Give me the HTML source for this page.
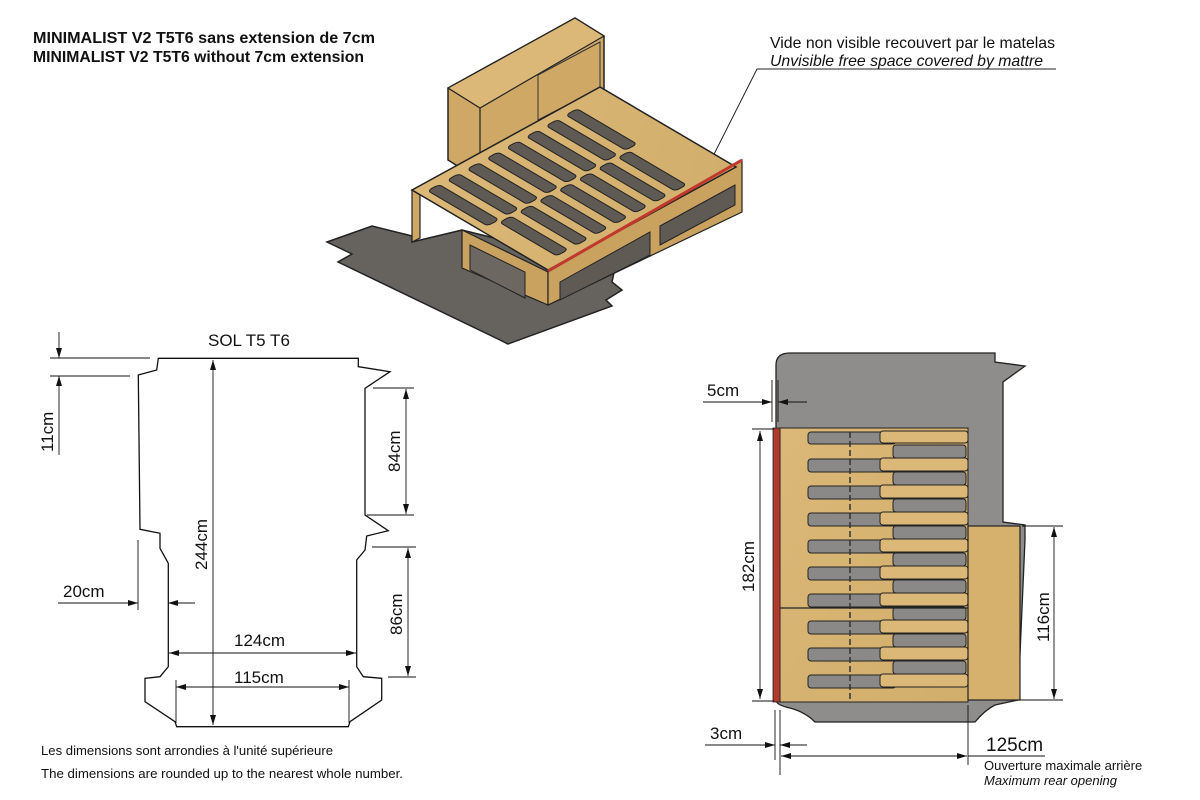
<!DOCTYPE html>
<html><head><meta charset="utf-8"><style>
html,body{margin:0;padding:0;background:#fff}
svg{display:block}
text{font-family:"Liberation Sans",sans-serif;fill:#111}
</style></head><body>
<svg width="1200" height="800" viewBox="0 0 1200 800" xmlns="http://www.w3.org/2000/svg">
<defs>
<marker id="a" markerWidth="10" markerHeight="6" refX="10" refY="3" orient="auto-start-reverse" markerUnits="userSpaceOnUse"><path d="M0,0 L10,3 L0,6 z" fill="#111"/></marker>
<linearGradient id="w" x1="0" y1="0" x2="1" y2="1"><stop offset="0" stop-color="#dcb878"/><stop offset="1" stop-color="#d2ae6c"/></linearGradient>
</defs>

<text x="33" y="43" font-size="16" font-weight="bold" textLength="342" lengthAdjust="spacingAndGlyphs">MINIMALIST V2 T5T6  sans extension de  7cm</text>
<text x="33" y="62" font-size="16" font-weight="bold" textLength="331" lengthAdjust="spacingAndGlyphs">MINIMALIST V2 T5T6 without 7cm extension</text>

<text x="770" y="48" font-size="16" textLength="285" lengthAdjust="spacingAndGlyphs">Vide non visible recouvert par le matelas</text>
<text x="770" y="66" font-size="16" font-style="italic" textLength="273" lengthAdjust="spacingAndGlyphs">Unvisible free space covered by mattre</text>
<polyline points="1056,69 757,69 700,182" fill="none" stroke="#222" stroke-width="1"/>

<!-- 3D render -->
<polygon points="327,242 372,226 412,236 412,242 462,230 615,268 612,282 622,290 606,300 612,306 508,344 500,340 338,262 352,254" fill="#66625d" stroke="#222" stroke-width="1.5"/>
<polygon points="448,88 575,18 604,36 604,112 480,180 448,160" fill="#cfa865" stroke="#222" stroke-width="1.5"/>
<polygon points="448,88 575,18 604,36 480,108" fill="#dcb878" stroke="#222" stroke-width="1.2"/>
<polyline points="480,108 480,180" stroke="#222" fill="none" stroke-width="1.2"/>
<polygon points="538,75 600,42 600,88 538,120" fill="none" stroke="#333" stroke-width="1"/>
<polygon points="412,190 420,195 420,238 412,242" fill="#cfa865" stroke="#222" stroke-width="1.2"/>
<polygon points="462,230 548,272 548,305 462,268" fill="#c9a260" stroke="#222" stroke-width="1.2"/>
<polygon points="470,245 525,272 525,298 470,270" fill="#6c6760" stroke="#222" stroke-width="1"/>
<polygon points="548,272 742,160 742,212 548,305" fill="#c9a260" stroke="#222" stroke-width="1.2"/>
<polygon points="560,282 650,232 650,255 560,300" fill="#5f5a54" stroke="#222" stroke-width="1"/>
<polygon points="660,226 735,185 735,205 660,245" fill="#5f5a54" stroke="#222" stroke-width="1"/>
<g transform="matrix(1.88,-1.03,1.36,0.80,412,190)">
<rect x="0" y="0" width="100" height="100" fill="url(#w)" stroke="#222" stroke-width="1.5" vector-effect="non-scaling-stroke"/>
<g fill="#5f5a54" stroke="#222" stroke-width="1">
<rect x="4" y="6" width="6" height="44" rx="2" vector-effect="non-scaling-stroke"/>
<rect x="14.5" y="6" width="6" height="44" rx="2" vector-effect="non-scaling-stroke"/>
<rect x="25" y="6" width="6" height="44" rx="2" vector-effect="non-scaling-stroke"/>
<rect x="35.5" y="6" width="6" height="44" rx="2" vector-effect="non-scaling-stroke"/>
<rect x="46" y="6" width="6" height="44" rx="2" vector-effect="non-scaling-stroke"/>
<rect x="56.5" y="6" width="6" height="44" rx="2" vector-effect="non-scaling-stroke"/>
<rect x="67" y="6" width="6" height="44" rx="2" vector-effect="non-scaling-stroke"/>
<rect x="77.5" y="6" width="6" height="44" rx="2" vector-effect="non-scaling-stroke"/>
<rect x="9" y="52" width="6" height="42" rx="2" vector-effect="non-scaling-stroke"/>
<rect x="19.5" y="52" width="6" height="42" rx="2" vector-effect="non-scaling-stroke"/>
<rect x="30" y="52" width="6" height="42" rx="2" vector-effect="non-scaling-stroke"/>
<rect x="40.5" y="52" width="6" height="42" rx="2" vector-effect="non-scaling-stroke"/>
<rect x="51" y="52" width="6" height="42" rx="2" vector-effect="non-scaling-stroke"/>
<rect x="61.5" y="52" width="6" height="42" rx="2" vector-effect="non-scaling-stroke"/>
<rect x="72" y="52" width="6" height="42" rx="2" vector-effect="non-scaling-stroke"/>
</g>
</g>
<line x1="548" y1="271" x2="742" y2="160" stroke="#c0392b" stroke-width="3"/>

<!-- floor plan -->
<text x="208" y="346" font-size="17">SOL T5 T6</text>
<polygon points="158.3,358.3 358.3,358.3 358.3,366.7 390,371.7 365,388.3 365,515 388.3,530.7 366.7,536 365,550 356.7,560 356.7,666.7 363.3,676.7 381.7,678.3 381.7,700 350,721.7 348.3,726.7 176.7,726.7 175,721.7 145,701.7 145,678.3 160,676.7 168.3,666.7 168.3,563.3 160,548.3 160,533.3 140,529.3 138.3,375 156.7,370" fill="none" stroke="#111" stroke-width="1.3"/>
<g stroke="#111" stroke-width="0.9" fill="none">
<line x1="213" y1="360" x2="213" y2="725" marker-start="url(#a)" marker-end="url(#a)"/>
<line x1="169" y1="653" x2="356" y2="653" marker-start="url(#a)" marker-end="url(#a)"/>
<line x1="176" y1="687" x2="349" y2="687" marker-start="url(#a)" marker-end="url(#a)"/>
<line x1="176" y1="680" x2="176" y2="723"/><line x1="349" y1="680" x2="349" y2="723"/>
<line x1="406" y1="389" x2="406" y2="514" marker-start="url(#a)" marker-end="url(#a)"/>
<line x1="373" y1="388" x2="414" y2="388"/><line x1="367" y1="515" x2="414" y2="515"/>
<line x1="408" y1="548" x2="408" y2="676" marker-start="url(#a)" marker-end="url(#a)"/>
<line x1="372" y1="547" x2="416" y2="547"/><line x1="388" y1="677" x2="416" y2="677"/>
<line x1="50" y1="358" x2="150" y2="358"/><line x1="50" y1="376" x2="130" y2="376"/>
<line x1="59" y1="332" x2="59" y2="358" marker-end="url(#a)"/>
<line x1="59" y1="455" x2="59" y2="376" marker-end="url(#a)"/>
<line x1="58" y1="603" x2="138" y2="603" marker-end="url(#a)"/>
<line x1="195" y1="603" x2="168" y2="603" marker-end="url(#a)"/>
<line x1="138" y1="540" x2="138" y2="610"/>
</g>
<text font-size="17" transform="translate(207,570) rotate(-90)">244cm</text>
<text x="234" y="646" font-size="17">124cm</text>
<text x="234" y="683" font-size="17">115cm</text>
<text font-size="17" transform="translate(400,472) rotate(-90)">84cm</text>
<text font-size="17" transform="translate(402,635) rotate(-90)">86cm</text>
<text font-size="17" transform="translate(53,452) rotate(-90)">11cm</text>
<text x="63" y="597" font-size="17">20cm</text>

<text x="41" y="755" font-size="13" textLength="292" lengthAdjust="spacingAndGlyphs">Les dimensions sont arrondies à l'unité supérieure</text>
<text x="41" y="778" font-size="13" textLength="362" lengthAdjust="spacingAndGlyphs">The dimensions are rounded up to the nearest whole number.</text>

<!-- top view -->
<path d="M776,365 Q776,353 790,353 L995,353 L995,362 L1025,366 L1003,382 L1003,522 L1025,525 L1025,540 L1018,700 L995,705 Q985,710 975,722 L815,722 Q805,712 790,708 Q776,705 776,700 Z" fill="#8e8d8b" stroke="#222" stroke-width="1.3"/>
<rect x="780" y="428" width="188" height="274" fill="url(#w)" stroke="#222" stroke-width="1"/>
<rect x="773" y="428" width="7" height="274" fill="#b03a2e" stroke="#222" stroke-width="0.8"/>
<g fill="#8a8987" stroke="#222" stroke-width="1">
<rect x="808" y="432" width="88" height="12" rx="3"/>
<rect x="808" y="459" width="88" height="13" rx="3"/>
<rect x="808" y="486" width="88" height="13" rx="3"/>
<rect x="808" y="513" width="88" height="13" rx="3"/>
<rect x="808" y="540" width="88" height="13" rx="3"/>
<rect x="808" y="567" width="88" height="13" rx="3"/>
<rect x="808" y="594" width="88" height="13" rx="3"/>
<rect x="808" y="621" width="88" height="13" rx="3"/>
<rect x="808" y="648" width="88" height="13" rx="3"/>
<rect x="808" y="675" width="88" height="13" rx="3"/>
<rect x="893" y="445" width="73" height="13" rx="3"/>
<rect x="893" y="472" width="73" height="13" rx="3"/>
<rect x="893" y="499" width="73" height="13" rx="3"/>
<rect x="893" y="526" width="73" height="13" rx="3"/>
<rect x="893" y="553" width="73" height="13" rx="3"/>
<rect x="893" y="580" width="73" height="13" rx="3"/>
<rect x="893" y="607" width="73" height="13" rx="3"/>
<rect x="893" y="634" width="73" height="13" rx="3"/>
<rect x="893" y="661" width="73" height="13" rx="3"/>
</g>
<g fill="#dcb878" stroke="#222" stroke-width="1">
<rect x="880" y="431" width="88" height="12" rx="3"/>
<rect x="880" y="458" width="88" height="13" rx="3"/>
<rect x="880" y="485" width="88" height="13" rx="3"/>
<rect x="880" y="512" width="88" height="13" rx="3"/>
<rect x="880" y="539" width="88" height="13" rx="3"/>
<rect x="880" y="566" width="88" height="13" rx="3"/>
<rect x="880" y="593" width="88" height="13" rx="3"/>
<rect x="880" y="620" width="88" height="13" rx="3"/>
<rect x="880" y="647" width="88" height="13" rx="3"/>
<rect x="880" y="674" width="88" height="13" rx="3"/>
</g>
<line x1="780" y1="608" x2="968" y2="608" stroke="#222" stroke-width="1.2"/>
<line x1="850" y1="432" x2="850" y2="700" stroke="#333" stroke-width="1.5" stroke-dasharray="6,3"/>
<rect x="968" y="526" width="52" height="174" fill="#d6b16e" stroke="#222" stroke-width="1.2"/>
<g stroke="#111" stroke-width="0.9" fill="none">
<line x1="703" y1="402" x2="772" y2="402" marker-end="url(#a)"/>
<line x1="807" y1="402" x2="778" y2="402" marker-end="url(#a)"/>
<line x1="772" y1="380" x2="772" y2="422"/><line x1="778" y1="380" x2="778" y2="422"/>
<line x1="760" y1="431" x2="760" y2="699" marker-start="url(#a)" marker-end="url(#a)"/>
<line x1="752" y1="429" x2="774" y2="429"/><line x1="752" y1="701" x2="774" y2="701"/>
<line x1="705" y1="745" x2="775" y2="745" marker-end="url(#a)"/>
<line x1="807" y1="745" x2="780" y2="745" marker-end="url(#a)"/>
<line x1="775" y1="710" x2="775" y2="760"/><line x1="780" y1="710" x2="780" y2="775"/>
<line x1="781" y1="756" x2="967" y2="756" marker-start="url(#a)" marker-end="url(#a)"/>
<line x1="968" y1="705" x2="968" y2="765"/>
<line x1="968" y1="756" x2="1045" y2="756"/>
<line x1="1054" y1="527" x2="1054" y2="699" marker-start="url(#a)" marker-end="url(#a)"/>
<line x1="1022" y1="526" x2="1063" y2="526"/><line x1="1018" y1="700" x2="1063" y2="700"/>
</g>
<text x="707" y="396" font-size="17">5cm</text>
<text font-size="17" transform="translate(754,592) rotate(-90)">182cm</text>
<text x="710" y="739" font-size="17">3cm</text>
<text x="986" y="751" font-size="19">125cm</text>
<text font-size="17" transform="translate(1049,642) rotate(-90)">116cm</text>
<text x="984" y="770" font-size="13">Ouverture maximale arrière</text>
<text x="984" y="785" font-size="13" font-style="italic">Maximum rear opening</text>
</svg>
</body></html>
